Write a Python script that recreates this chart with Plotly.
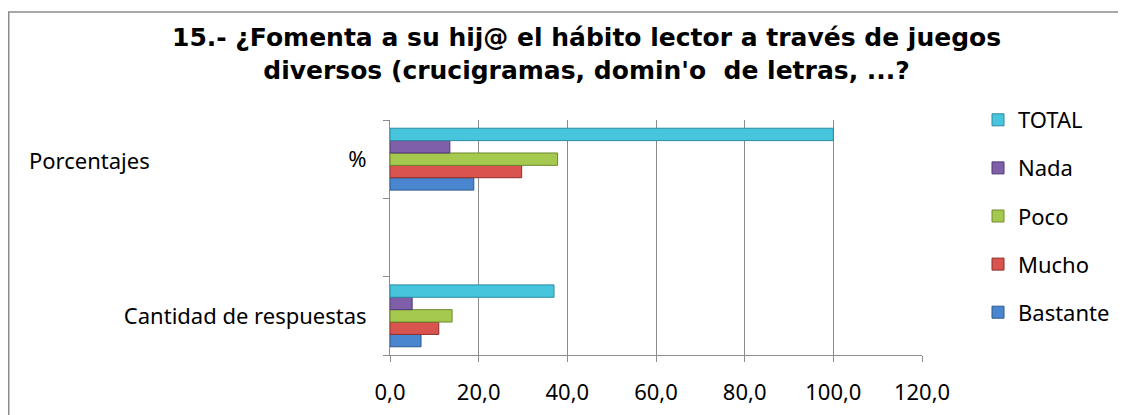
import plotly.graph_objects as go

categories = ["Cantidad de respuestas", "blank", "Porcentajes"]
series_names = ["Bastante", "Mucho", "Poco", "Nada", "TOTAL"]
cantidad = [7, 11, 14, 5, 37]
porcentajes = [18.9, 29.7, 37.8, 13.5, 100.0]
colors = ["#4A86CF", "#D9534F", "#A5C94F", "#7E5FA8", "#46C5DD"]
edge_colors = ["#2C5A8F", "#8E2F2C", "#6E8A2E", "#51397A", "#2A8BA3"]
x_ticks = [0, 20, 40, 60, 80, 100, 120]

OFF = 8  # page body margin
W, H = 1126 - OFF, 415 - OFF
# target plot area in window pixels: x 390..922, y 120..355
L = 390 - OFF
T = 120 - OFF
R = W - (922 - OFF)
B = H - (355 - OFF)
pw, ph = W - L - R, H - T - B


def px_x(p):
    return (p - OFF - L) / pw


def px_y(p):
    return (H - B - (p - OFF)) / ph


fig = go.Figure()
for i, name in enumerate(series_names):
    fig.add_trace(go.Bar(
        y=[categories[0], categories[2]],
        x=[cantidad[i], porcentajes[i]],
        name=name, orientation="h",
        marker=dict(color=colors[i], line=dict(color=edge_colors[i], width=1)),
        legendgroup=name,
        legendrank=len(series_names) - i,
    ))

AX = "#8C8C8C"
FONT = "Noto Sans"

fig.update_layout(
    width=W, height=H,
    margin=dict(l=L, r=R, t=T, b=B, autoexpand=False),
    paper_bgcolor="white", plot_bgcolor="white",
    barmode="group", bargap=0.21, bargroupgap=0,
    separators=", ",
    font=dict(family=FONT, size=22, color="black"),
    xaxis=dict(
        range=[0, 120], tickvals=x_ticks, tickformat=".1f",
        showgrid=True, gridcolor=AX, gridwidth=1,
        showline=True, linecolor=AX, ticks="outside", ticklen=6,
        tickcolor=AX, zeroline=False, ticklabelstandoff=12,
        tickfont=dict(family=FONT, size=22),
    ),
    yaxis=dict(
        type="category", categoryorder="array", categoryarray=categories,
        range=[-0.5, 2.5], tickvals=categories,
        ticktext=["Cantidad de respuestas", "", "%"],
        tickson="boundaries", ticks="outside", ticklen=6, tickcolor=AX,
        showline=True, linecolor=AX, showgrid=False, zeroline=False,
        ticklabelstandoff=18,
        tickfont=dict(family=FONT, size=22),
    ),
    legend=dict(
        x=px_x(978), y=px_y(99), xanchor="left", yanchor="top",
        traceorder="grouped", tracegroupgap=16.5,
        font=dict(family=FONT, size=22),
        itemwidth=30, bgcolor="rgba(0,0,0,0)",
        maxheight=1.0,
    ),
    showlegend=True,
)

fig.add_annotation(
    text="15.- ¿Fomenta a su hij@ el hábito lector a través de juegos<br>diversos (crucigramas, domin'o  de letras, ...?",
    xref="paper", yref="paper", x=px_x(586), y=px_y(21),
    xanchor="center", yanchor="top", showarrow=False,
    font=dict(family="DejaVu Sans", size=25, color="black", weight="bold"),
)

fig.add_annotation(
    text="Porcentajes", xref="paper", yref="paper",
    x=px_x(27), y=px_y(160), xanchor="left", yanchor="middle",
    showarrow=False, font=dict(family=FONT, size=22),
)

fig.add_shape(
    type="rect", xref="paper", yref="paper",
    x0=px_x(OFF + 0.75), x1=px_x(1124), y0=px_y(430), y1=px_y(12),
    line=dict(color=AX, width=1.5), layer="below",
)

fig.write_html("out.html")
